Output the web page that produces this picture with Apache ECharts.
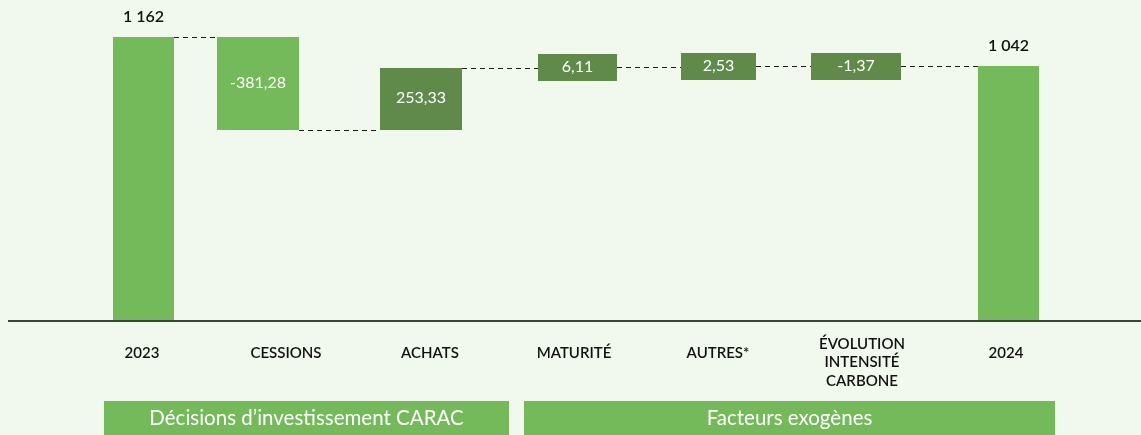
<!DOCTYPE html>
<html lang="fr">
<head>
<meta charset="utf-8">
<title>Évolution de l'empreinte carbone 2023-2024</title>
<script src="https://cdn.jsdelivr.net/npm/echarts@6/dist/echarts.min.js"></script>
<style>
  html, body { margin: 0; padding: 0; background: #f1f8ed; }
  #chart { width: 1141px; height: 435px; }
</style>
</head>
<body>
<div id="chart"></div>
<script>
// Waterfall categories and amounts
const categories = ['2023', 'CESSIONS', 'ACHATS', 'MATURITÉ', 'AUTRES*', 'ÉVOLUTION\nINTENSITÉ\nCARBONE', '2024'];
const amounts = [1162, -381.28, 253.33, 6.11, 2.53, -1.37, 1042];
const isTotal = [true, false, false, false, false, false, true];
const groupLabels = ['Décisions d’investissement CARAC', 'Facteurs exogènes'];

// Appearance
const LIGHT = '#74b95a';
const DARK = '#5f8a49';
const FONT = 'Lato, "Noto Sans", sans-serif';
const barFill = [LIGHT, LIGHT, DARK, DARK, DARK, DARK, LIGHT];
const barWidth = [61, 82, 82, 79, 75, 90, 61];
const barShift = [1.5, -28, -9, 3, 0, -6, 2.5];
const MIN_BAR_H = 27;

// Build [index, start, end] rows from the running total
const rows = [];
let running = 0;
amounts.forEach((v, i) => {
  if (isTotal[i]) {
    rows.push([i, 0, v]);
    running = v;
  } else {
    rows.push([i, running, running + v]);
    running += v;
  }
});

function formatValue(v, total) {
  if (total) return String(Math.round(v)).replace(/\B(?=(\d{3})+(?!\d))/g, '\u202F');
  return v.toFixed(2).replace('.', ',');
}

function barRect(api, i) {
  const s = rows[i][1], e = rows[i][2];
  const a = api.coord([i, s]);
  const b = api.coord([i, e]);
  const cx = a[0] + barShift[i];
  const w = barWidth[i];
  let y0 = Math.min(a[1], b[1]);
  let y1 = Math.max(a[1], b[1]);
  if (y1 - y0 < MIN_BAR_H) {
    const m = (y0 + y1) / 2;
    y0 = m - MIN_BAR_H / 2;
    y1 = m + MIN_BAR_H / 2;
  }
  return { x: Math.round(cx - w / 2), y: Math.round(y0), w: w, h: Math.round(y1) - Math.round(y0), endY: b[1] };
}

function renderItem(params, api) {
  const i = api.value(0);
  const r = barRect(api, i);
  const children = [{
    type: 'rect',
    shape: { x: r.x, y: r.y, width: r.w, height: r.h },
    style: { fill: barFill[i] }
  }];
  if (isTotal[i]) {
    children.push({
      type: 'text',
      style: {
        text: formatValue(amounts[i], true),
        x: r.x + r.w / 2, y: r.y - 20,
        align: 'center', verticalAlign: 'middle',
        fill: '#111111', font: '600 16px ' + FONT
      }
    });
  } else {
    children.push({
      type: 'text',
      style: {
        text: formatValue(amounts[i], false),
        x: r.x + r.w / 2, y: r.y + r.h / 2 - 1,
        align: 'center', verticalAlign: 'middle',
        fill: '#ffffff', font: '16px ' + FONT
      }
    });
  }
  if (i < rows.length - 1) {
    const next = barRect(api, i + 1);
    const y = Math.round(r.endY) + 0.5;
    children.push({
      type: 'line',
      shape: { x1: r.x + r.w, y1: y, x2: next.x, y2: y },
      style: { stroke: '#1d1d1b', lineWidth: 1, lineDash: [5, 4] }
    });
  }
  return { type: 'group', children: children };
}

const chart = echarts.init(document.getElementById('chart'), null, { renderer: 'canvas' });

function groupBand(x, w, label) {
  return {
    type: 'group',
    children: [
      { type: 'rect', shape: { x: x, y: 401, width: w, height: 40 }, style: { fill: LIGHT } },
      {
        type: 'text',
        style: {
          text: label, x: x + w / 2, y: 418,
          align: 'center', verticalAlign: 'middle',
          fill: '#ffffff', font: '20.5px ' + FONT
        }
      }
    ]
  };
}

chart.setOption({
  backgroundColor: '#f1f8ed',
  animation: false,
  grid: { left: 70, right: 63, top: 27.4, bottom: 114 },
  xAxis: {
    type: 'category',
    data: categories,
    axisLine: { show: false },
    axisTick: { show: false },
    axisLabel: {
      margin: 32,
      verticalAlign: 'middle',
      lineHeight: 18.5,
      fontSize: 15,
      fontWeight: 600,
      fontFamily: FONT,
      color: '#111111',
      formatter: (v) => (v.indexOf('\n') >= 0 ? '\n' + v : v)
    }
  },
  yAxis: { type: 'value', min: 0, max: 1200, show: false, splitLine: { show: false } },
  series: [{
    type: 'custom',
    renderItem: renderItem,
    data: rows,
    encode: { x: 0, y: [1, 2] },
    clip: false
  }],
  graphic: [
    { type: 'line', shape: { x1: 8, y1: 321, x2: 1141, y2: 321 }, style: { stroke: '#3d413c', lineWidth: 2 }, z: 10 },
    groupBand(104, 405, groupLabels[0]),
    groupBand(524, 531, groupLabels[1])
  ]
});
</script>
</body>
</html>
